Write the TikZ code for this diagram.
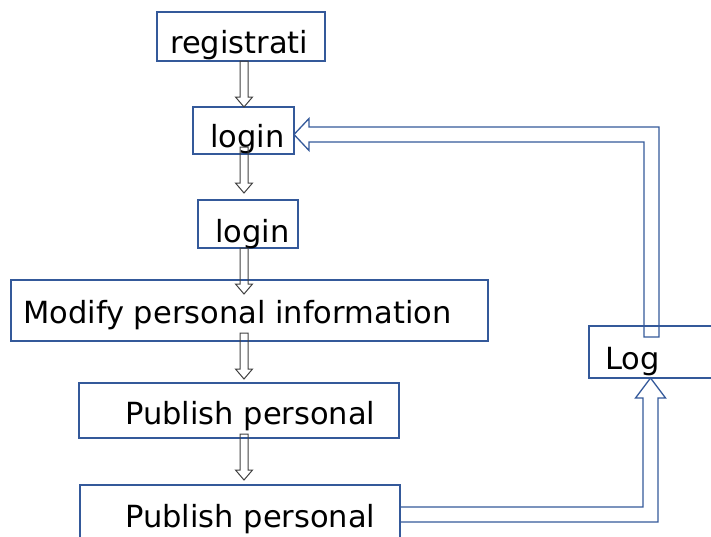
\documentclass[tikz,border=0pt]{standalone}
\usepackage{fontspec}
\setmainfont{DejaVu Sans}
\usetikzlibrary{calc}
\definecolor{boxblue}{HTML}{34599A}
\definecolor{arrgray}{HTML}{404040}
\tikzset{
	box/.style={draw=boxblue, line width=1.3pt, inner sep=0pt, outer sep=0pt},
	lbl/.style={anchor=base west, inner sep=0pt, font=\fontsize{30.5}{36}\selectfont},
	downarr/.style 2 args={draw=arrgray, line width=1pt, line join=miter,
		to path={($(\tikztostart)+(-4,#1)$) -- ($(\tikztotarget)+(-4,#2-10)$) -- ($(\tikztotarget)+(-8.5,#2-10)$) -- ($(\tikztotarget)+(0,#2)$)
			-- ($(\tikztotarget)+(8.5,#2-10)$) -- ($(\tikztotarget)+(4,#2-10)$) -- ($(\tikztostart)+(4,#1)$) -- cycle}},
	bluearr/.style={draw=boxblue, line width=1.3pt, line join=miter},
}
\begin{document}
\begin{tikzpicture}[x=1pt,y=-1pt]
	\path[use as bounding box, clip] (0,0) rectangle (711,536);
	\node[box, minimum width=168, minimum height=49] (reg) at (241,36.5) {};
	\node[box, minimum width=101, minimum height=47] (loginA) at (243.5,130.5) {};
	\node[box, minimum width=100, minimum height=48] (loginB) at (248,224) {};
	\node[box, minimum width=477, minimum height=61] (modify) at (249.5,310.5) {};
	\node[box, minimum width=320, minimum height=55] (pubA) at (239,410.5) {};
	\node[box, minimum width=320, minimum height=60] (pubB) at (240,515) {};
	\node[box, minimum width=132, minimum height=52] (logbox) at (655,352) {};
	\node[lbl] (regtxt) at (170,53) {registrati};
	\node[lbl] (loginAtxt) at (210,147) {login};
	\node[lbl] (loginBtxt) at (215,242) {login};
	\node[lbl] (modifytxt) at (23,323) {Modify personal information};
	\node[lbl] (pubAtxt) at (125,424) {Publish personal};
	\node[lbl] (pubBtxt) at (125,527) {Publish personal};
	\node[lbl] (logtxt) at (605,369) {Log};
	\coordinate (ax) at (244,0);
	\coordinate (upc) at (651.5,134.5);
	\coordinate (dnc) at (650.5,514.5);
	\draw[downarr={0}{0}] (reg.south -| ax) to (loginA.north -| ax);
	\draw[downarr={-7}{-7}] (loginA.south -| ax) to (loginB.north -| ax);
	\draw[downarr={0}{14}] (loginB.south -| ax) to (modify.north -| ax);
	\draw[downarr={-8}{-4}] (modify.south -| ax) to (pubA.north -| ax);
	\draw[downarr={-4}{-5}] (pubA.south -| ax) to (pubB.north -| ax);
	\draw[bluearr] ($(logbox.north -| upc)+(-7.5,11)$) -- ($(upc)+(-7.5,7.5)$) -- ($(loginA.east |- upc)+(15,7.5)$)
		-- ($(loginA.east |- upc)+(15,16)$) -- (loginA.east |- upc) -- ($(loginA.east |- upc)+(15,-16)$)
		-- ($(loginA.east |- upc)+(15,-7.5)$) -- ($(upc)+(7.5,-7.5)$) -- ($(logbox.north -| upc)+(7.5,11)$) -- cycle;
	\draw[bluearr] ($(pubB.east |- dnc)+(0,-7.5)$) -- ($(dnc)+(-7.5,-7.5)$) -- ($(logbox.south -| dnc)+(-7.5,20)$)
		-- ($(logbox.south -| dnc)+(-15,20)$) -- (logbox.south -| dnc) -- ($(logbox.south -| dnc)+(15,20)$)
		-- ($(logbox.south -| dnc)+(7.5,20)$) -- ($(dnc)+(7.5,7.5)$) -- ($(pubB.east |- dnc)+(0,7.5)$) -- cycle;
\end{tikzpicture}
\end{document}
